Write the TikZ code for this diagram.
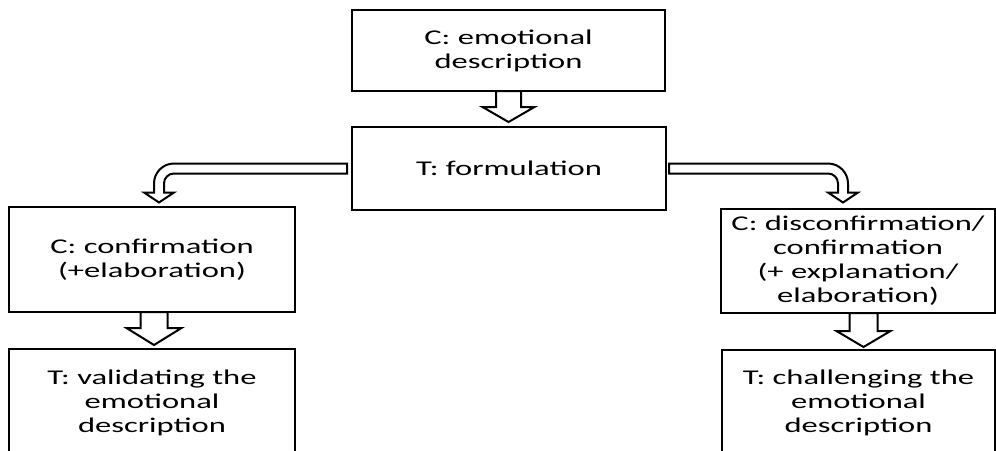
\documentclass[tikz,border=0pt]{standalone}
\usepackage{fontspec}
\setmainfont[FakeStretch=1.55]{Carlito}
\usetikzlibrary{calc}

\tikzset{every picture/.style={line width=0.75pt}}
\tikzset{
  stepbox/.style={draw, line width=2pt, inner sep=0pt, outer sep=0pt, align=center,
    font=\fontsize{15.75pt}{18pt}\selectfont},
  blockarrow/.style={draw, fill=white, line width=1.5pt, line join=miter}
}

\begin{document}
\begin{tikzpicture}[x=0.75pt,y=0.75pt,yscale=-1,xscale=1]
	\useasboundingbox (0,0) rectangle (996,450);
	\clip (0,0) rectangle (996,450);

	% Boxes
	\draw (508.5,50.5) node [stepbox, minimum width=234.75pt, minimum height=60.75pt] (top) {C: emotional\\description};
	\draw (509,168.5) node [stepbox, minimum width=235.5pt, minimum height=62.25pt] (form) {T: formulation};
	\draw (152,259.5) node [stepbox, minimum width=214.5pt, minimum height=78.75pt] (confirm) {C: confirmation\\(+elaboration)};
	\draw (152,403) node [stepbox, minimum width=214.5pt, minimum height=81pt] (validate) {T: validating the\\emotional\\description};
	\draw (858,261) node [stepbox, minimum width=205.5pt, minimum height=78pt] (disconfirm) {C: disconfirmation/\\confirmation\\(+ explanation/\\elaboration)};
	\draw (858.5,403) node [stepbox, minimum width=204.75pt, minimum height=79.5pt] (challenge) {T: challenging the\\emotional\\description};

	% Down Arrows
	\draw [blockarrow] (top.south) ++(-12.5,0) -- ++(0,16) -- ++(-13.5,0) -- ++(26,15) -- ++(26,-15) -- ++(-13.5,0) -- ++(0,-16) -- cycle;
	\draw [blockarrow] ($(confirm.south)+(2,0)$) ++(-13.5,0) -- ++(0,16) -- ++(-14,0) -- ++(27.5,17) -- ++(27.5,-17) -- ++(-14,0) -- ++(0,-16) -- cycle;
	\draw [blockarrow] ($(disconfirm.south)+(5.5,0)$) ++(-14,0) -- ++(0,18) -- ++(-13,0) -- ++(27,16) -- ++(27,-16) -- ++(-13,0) -- ++(0,-18) -- cycle;

	% Bent Arrows
	\draw [blockarrow] ($(form.west)+(-5,-5)$) -- ++(-173,0) arc[start angle=-90, end angle=-180, radius=20] -- ++(0,9) -- ++(-10,0) -- ++(15,10) -- ++(15,-10) -- ++(-10,0) -- ++(0,-9) arc[start angle=180, end angle=270, radius=10] -- ($(form.west)+(-5,5)$) -- cycle;
	\draw [blockarrow] ($(form.east)+(3,-5)$) -- ++(159,0) arc[start angle=-90, end angle=0, radius=20] -- ++(0,9) -- ++(10,0) -- ++(-15,10) -- ++(-15,-10) -- ++(10,0) -- ++(0,-9) arc[start angle=0, end angle=-90, radius=10] -- ($(form.east)+(3,5)$) -- cycle;

\end{tikzpicture}
\end{document}
